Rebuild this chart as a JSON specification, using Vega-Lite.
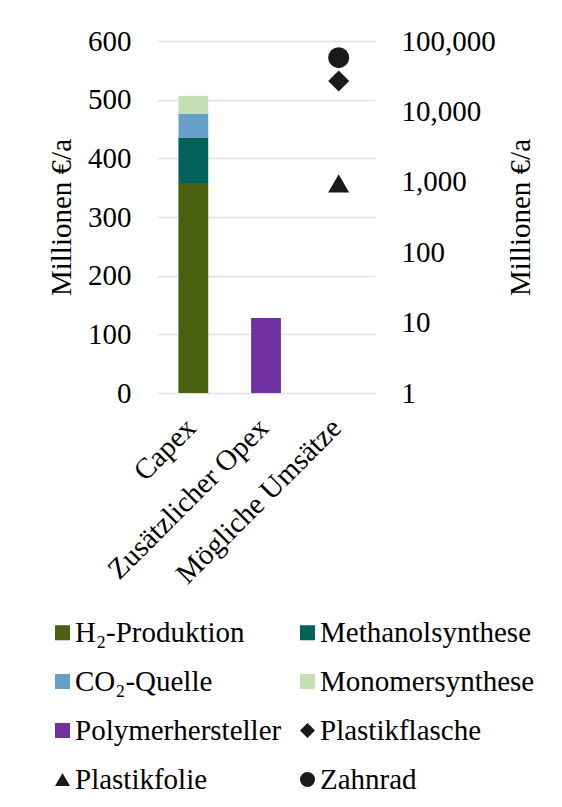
{
  "$schema": "https://vega.github.io/schema/vega-lite/v6.json",
  "width": 218,
  "height": 352,
  "autosize": {"type": "none"},
  "padding": {"left": 157, "top": 41, "right": 187, "bottom": 414},
  "background": "white",
  "config": {
    "font": "Liberation Serif",
    "view": {"stroke": null},
    "axis": {
      "labelFont": "Liberation Serif",
      "titleFont": "Liberation Serif",
      "labelColor": "#000000",
      "titleColor": "#000000",
      "titleFontWeight": "normal",
      "labelFontSize": 29,
      "titleFontSize": 29,
      "labelLimit": 400,
      "domain": false,
      "ticks": false
    },
    "legend": {
      "labelFont": "Liberation Serif",
      "labelFontSize": 29,
      "labelColor": "#000000"
    }
  },
  "datasets": {
    "bars": [
      {"cat": "Capex", "series": "H₂-Produktion", "v": 358, "rank": 1},
      {"cat": "Capex", "series": "Methanolsynthese", "v": 77.5, "rank": 2},
      {"cat": "Capex", "series": "CO₂-Quelle", "v": 40.5, "rank": 3},
      {"cat": "Capex", "series": "Monomersynthese", "v": 30.5, "rank": 4},
      {"cat": "Zusätzlicher Opex", "series": "Polymerhersteller", "v": 128, "rank": 5}
    ],
    "points": [
      {"cat": "Mögliche Umsätze", "series": "Plastikflasche", "rev": 27000},
      {"cat": "Mögliche Umsätze", "series": "Plastikfolie", "rev": 950},
      {"cat": "Mögliche Umsätze", "series": "Zahnrad", "rev": 58000}
    ]
  },
  "encoding": {
    "x": {
      "field": "cat",
      "type": "nominal",
      "scale": {"domain": ["Capex", "Zusätzlicher Opex", "Mögliche Umsätze"], "paddingInner": 0, "paddingOuter": 0},
      "axis": {"title": null, "labelAngle": -45, "labelPadding": 20, "labelOffset": -12, "grid": false, "labelLimit": 400}
    }
  },
  "layer": [
    {
      "data": {"name": "bars"},
      "mark": {"type": "bar", "width": {"band": 0.41}},
      "encoding": {
        "y": {
          "field": "v",
          "type": "quantitative",
          "stack": "zero",
          "scale": {"domain": [0, 600], "nice": false},
          "axis": {
            "values": [0, 100, 200, 300, 400, 500, 600],
            "title": "Millionen €/a",
            "labelPadding": 26,
            "titlePadding": 11,
            "grid": true,
            "gridColor": "#dde1e6",
            "gridWidth": 1.3
          }
        },
        "color": {
          "field": "series",
          "type": "nominal",
          "scale": {
            "domain": ["H₂-Produktion", "Methanolsynthese", "CO₂-Quelle", "Monomersynthese", "Polymerhersteller", "Plastikflasche", "Plastikfolie", "Zahnrad"],
            "range": ["#4b5f10", "#00625b", "#679fcb", "#c5e0b4", "#7030a0", "#1a1a1a", "#1a1a1a", "#1a1a1a"]
          },
          "legend": {
            "title": null,
            "orient": "none",
            "direction": "horizontal",
            "legendX": -109,
            "legendY": 577,
            "columns": 2,
            "columnPadding": 3,
            "rowPadding": 19,
            "symbolSize": 225,
            "symbolStrokeWidth": 0,
            "labelOffset": -2,
            "gridAlign": "all",
            "labelLimit": 400
          }
        },
        "order": {"field": "rank", "type": "quantitative"}
      }
    },
    {
      "data": {"name": "points"},
      "mark": {"type": "point", "filled": true, "opacity": 1},
      "encoding": {
        "y": {
          "field": "rev",
          "type": "quantitative",
          "scale": {"type": "log", "domain": [1, 100000], "nice": false},
          "axis": {
            "orient": "right",
            "values": [1, 10, 100, 1000, 10000, 100000],
            "format": ",",
            "title": "Millionen €/a",
            "titleAngle": -90,
            "labelPadding": 26,
            "titlePadding": 40,
            "grid": false
          }
        },
        "size": {
          "field": "series",
          "type": "nominal",
          "scale": {"domain": ["Plastikflasche", "Plastikfolie", "Zahnrad"], "range": [441, 441, 324]},
          "legend": null
        },
        "color": {
          "field": "series",
          "type": "nominal",
          "scale": {
            "domain": ["H₂-Produktion", "Methanolsynthese", "CO₂-Quelle", "Monomersynthese", "Polymerhersteller", "Plastikflasche", "Plastikfolie", "Zahnrad"],
            "range": ["#4b5f10", "#00625b", "#679fcb", "#c5e0b4", "#7030a0", "#1a1a1a", "#1a1a1a", "#1a1a1a"]
          },
          "legend": {
            "title": null,
            "orient": "none",
            "direction": "horizontal",
            "legendX": -109,
            "legendY": 577,
            "columns": 2,
            "columnPadding": 3,
            "rowPadding": 19,
            "symbolSize": 225,
            "symbolStrokeWidth": 0,
            "labelOffset": -2,
            "gridAlign": "all",
            "labelLimit": 400
          }
        },
        "shape": {
          "field": "series",
          "type": "nominal",
          "scale": {
            "domain": ["H₂-Produktion", "Methanolsynthese", "CO₂-Quelle", "Monomersynthese", "Polymerhersteller", "Plastikflasche", "Plastikfolie", "Zahnrad"],
            "range": ["square", "square", "square", "square", "square", "diamond", "triangle-up", "circle"]
          },
          "legend": {
            "title": null,
            "orient": "none",
            "direction": "horizontal",
            "legendX": -109,
            "legendY": 577,
            "columns": 2,
            "columnPadding": 3,
            "rowPadding": 19,
            "symbolSize": 225,
            "symbolStrokeWidth": 0,
            "labelOffset": -2,
            "gridAlign": "all",
            "labelLimit": 400
          }
        }
      }
    }
  ],
  "resolve": {"scale": {"y": "independent"}}
}
